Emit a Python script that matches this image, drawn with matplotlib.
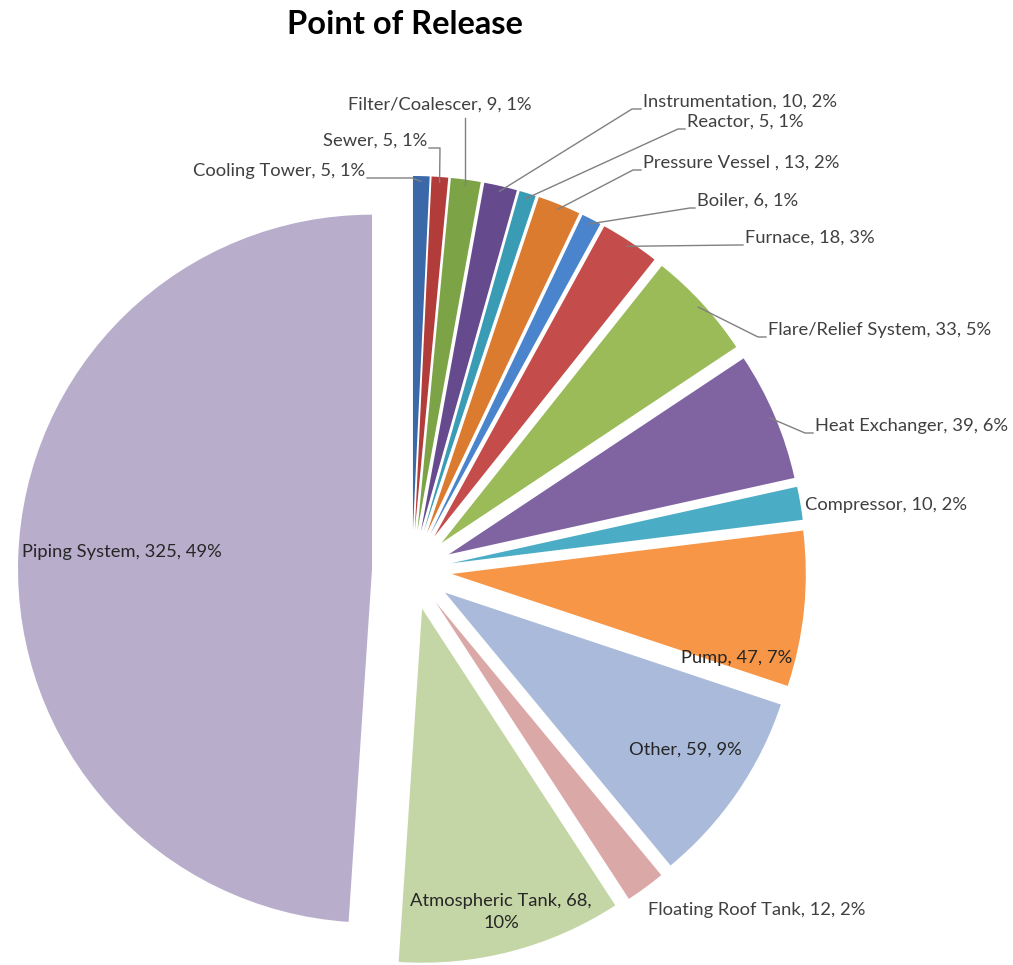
import numpy as np
import matplotlib.pyplot as plt

# data, clockwise from 12 o'clock
categories = ["Cooling Tower", "Sewer", "Filter/Coalescer", "Instrumentation", "Reactor",
              "Pressure Vessel ", "Boiler", "Furnace", "Flare/Relief System", "Heat Exchanger",
              "Compressor", "Pump", "Other", "Floating Roof Tank", "Atmospheric Tank",
              "Piping System"]
counts = [5, 5, 9, 10, 5, 13, 6, 18, 33, 39, 10, 47, 59, 12, 68, 325]
colors = ["#3b68a8", "#b23c3a", "#7da347", "#654a8e", "#3a9bb5", "#da7b30",
          "#4a84cc", "#c44c4a", "#9bbb59", "#8064a2", "#4bacc6", "#f79646",
          "#a9badb", "#dba8a8", "#c4d6a5", "#b8adcb"]

# label placement in pixel coords: (x, y, ha, leader kink x or None)
label_pos = {
    "Cooling Tower": (365, 171, "right", 412),
    "Sewer": (427, 141, "right", 440),
    "Filter/Coalescer": (440, 105, "center", None),
    "Instrumentation": (643, 102, "left", 632),
    "Reactor": (687, 122, "left", 678),
    "Pressure Vessel ": (643, 163, "left", 633),
    "Boiler": (697, 201, "left", 690),
    "Furnace": (745, 238, "left", 738),
    "Flare/Relief System": (768, 330, "left", 758),
    "Heat Exchanger": (815, 426, "left", 805),
    "Compressor": (805, 505, "left", None),
    "Pump": (737, 658, "center", None),
    "Other": (685, 750, "center", None),
    "Floating Roof Tank": (648, 910, "left", None),
    "Atmospheric Tank": (501, 912, "center", None),
    "Piping System": (22, 552, "left", None),
}
with_leader = ["Cooling Tower", "Sewer", "Filter/Coalescer", "Instrumentation", "Reactor",
               "Pressure Vessel ", "Boiler", "Furnace", "Flare/Relief System", "Heat Exchanger"]
inside = ["Pump", "Other", "Atmospheric Tank", "Piping System"]

plt.rcParams['font.family'] = ['Lato', 'DejaVu Sans']
W, H = 1013, 965
fig = plt.figure(figsize=(W / 100, H / 100), dpi=100)
ax = fig.add_axes([0, 0, 1, 1])

# y axis is inverted below, so counterclockwise in data is clockwise on screen
wedges, _ = ax.pie(counts, colors=colors, startangle=-90, counterclock=True,
                   radius=354, center=(412, 570), explode=[40] * len(counts),
                   wedgeprops=dict(linewidth=0), frame=True)
ax.set_xlim(0, W)
ax.set_ylim(H, 0)  # pixel-like coords, y downwards
ax.set_aspect("equal")
ax.axis("off")

total = sum(counts)
line_color = "#808080"
for w, cat, n in zip(wedges, categories, counts):
    pct = n / total * 100
    txt = f"{cat}, {n}, {pct:.0f}%"
    if cat == "Atmospheric Tank":
        txt = f"{cat}, {n},\n{pct:.0f}%"
    x, y, ha, kink = label_pos[cat]
    col = "#262626" if cat in inside else "#404040"
    ax.text(x, y, txt, ha=ha, va="center", fontsize=13.2, color=col,
            multialignment="center", linespacing=1.45)
    if cat in with_leader:
        # leader ends on the outer arc at the wedge's mid angle
        tm = np.deg2rad((w.theta1 + w.theta2) / 2)
        cx, cy = w.center
        px = cx + w.r * 0.985 * np.cos(tm)
        py = cy + w.r * 0.985 * np.sin(tm)
        if cat == "Filter/Coalescer":
            ax.plot([px, px], [y + 13, py], color=line_color, lw=1)
        else:
            ly = y + 7
            x0 = x - 2 if ha == "left" else x + 2
            ax.plot([x0, kink, px], [ly, ly, py], color=line_color, lw=1)

ax.text(405, 25, "Point of Release", ha="center", va="center", fontsize=23.5,
        fontweight="bold", color="black")

fig.savefig("out.png", dpi=100)
